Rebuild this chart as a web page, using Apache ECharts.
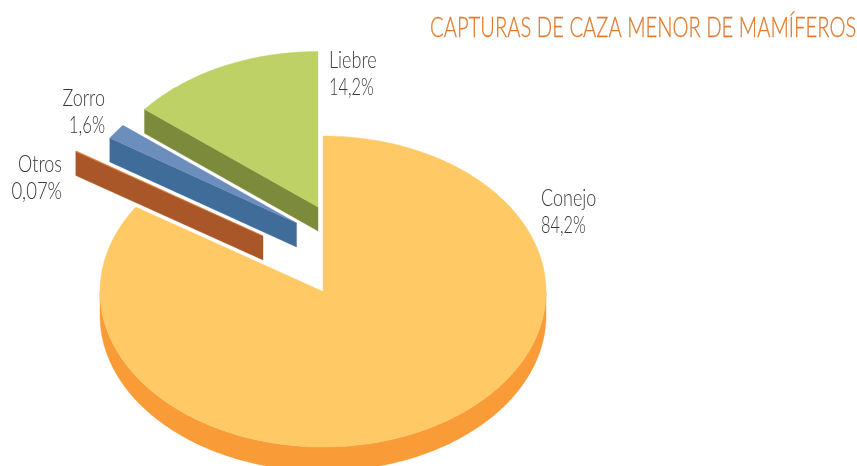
<!DOCTYPE html>
<html><head><meta charset="utf-8">
<style>html,body{margin:0;padding:0;background:#fff}#c{width:857px;height:466px}</style>
<script src="https://cdn.jsdelivr.net/npm/echarts@6/dist/echarts.min.js"></script>
</head><body><div id="c"></div>
<script>
var categories = ['Conejo', 'Otros', 'Zorro', 'Liebre'];
var values = [84.2, 0.07, 1.6, 14.2];
var valueLabels = ['84,2%', '0,07%', '1,6%', '14,2%'];
var titleText = 'CAPTURAS DE CAZA MENOR DE MAMÍFEROS';

// style and layout only
var topColors = ['#FFC966', '#E07B30', '#6C8EBD', '#BDD167'];
var sideColors = ['#F99B36', '#A95628', '#3F6C98', '#7C8A3C'];
var centers = [[323, 291.5], [263, 236], [296.5, 223], [318, 207]];
var drawOrder = [1, 2, 3, 0];
var labelPos = [[541, 198, 'left'], [62, 164, 'right'], [105, 98, 'right'], [329, 60, 'left']];
var valueLabelScale = [0.68, 0.77, 0.7, 0.68];
var RX = 223, RY = 155.5, DEPTH = 24, FONT = 'Lato, "Open Sans", sans-serif';

var total = values.reduce(function (a, b) { return a + b; }, 0);
function pt(c, deg, dy) {
  var a = deg * Math.PI / 180;
  return [c[0] + RX * Math.sin(a), c[1] - RY * Math.cos(a) + (dy || 0)];
}
function arc(c, from, to, dy) {
  var out = [], n = Math.max(2, Math.ceil(Math.abs(to - from)));
  for (var i = 0; i <= n; i++) out.push(pt(c, from + (to - from) * i / n, dy));
  return out;
}
function startAngle(idx) {
  var s = 0;
  for (var i = 0; i < idx; i++) s += values[i];
  return s / total * 360;
}
function poly(points, fill) {
  return { type: 'polygon', silent: true, shape: { points: points }, style: { fill: fill, stroke: fill, lineWidth: 0.4 } };
}
function label(text, x, y, align, sx) {
  return {
    type: 'text', silent: true, x: x, y: y, scaleX: sx, scaleY: 1,
    style: { text: text, fontFamily: FONT, fontWeight: 300, fontSize: 24, fill: '#3a3a3a', align: align, verticalAlign: 'middle' }
  };
}

var chart = echarts.init(document.getElementById('c'), null, { renderer: 'canvas' });
chart.setOption({
  animation: false,
  backgroundColor: '#ffffff',
  graphic: [{
    type: 'text', silent: true, x: 430, y: 28, scaleX: 0.722, scaleY: 1,
    style: { text: titleText, fontFamily: FONT, fontWeight: 300, fontSize: 28, fill: '#E07B30', stroke: '#E07B30', lineWidth: 0.3, align: 'left', verticalAlign: 'middle' }
  }],
  series: [{
    type: 'custom',
    coordinateSystem: 'none',
    clip: false,
    silent: true,
    data: drawOrder.map(function (i) { return { name: categories[i], value: [i, values[i]] }; }),
    renderItem: function (params, api) {
      var i = api.value(0);
      var sweep = api.value(1) / total * 360;
      var a0 = startAngle(i), a1 = a0 + sweep, c = centers[i];
      var kids = [];
      if (a0 < 90) {
        var rim = arc(c, 90, 270, 0).concat(arc(c, 270, 90, DEPTH));
        kids.push(poly(rim, sideColors[i]));
      } else {
        var p = pt(c, a0);
        kids.push(poly([p, c, [c[0], c[1] + DEPTH], [p[0], p[1] + DEPTH]], sideColors[i]));
      }
      kids.push(poly([c].concat(arc(c, a0, a1, 0)), topColors[i]));
      var lp = labelPos[i];
      kids.push(label(categories[i], lp[0], lp[1], lp[2], 0.75));
      kids.push(label(valueLabels[i], lp[0], lp[1] + 27, lp[2], valueLabelScale[i]));
      return { type: 'group', children: kids };
    }
  }]
});
</script></body></html>
